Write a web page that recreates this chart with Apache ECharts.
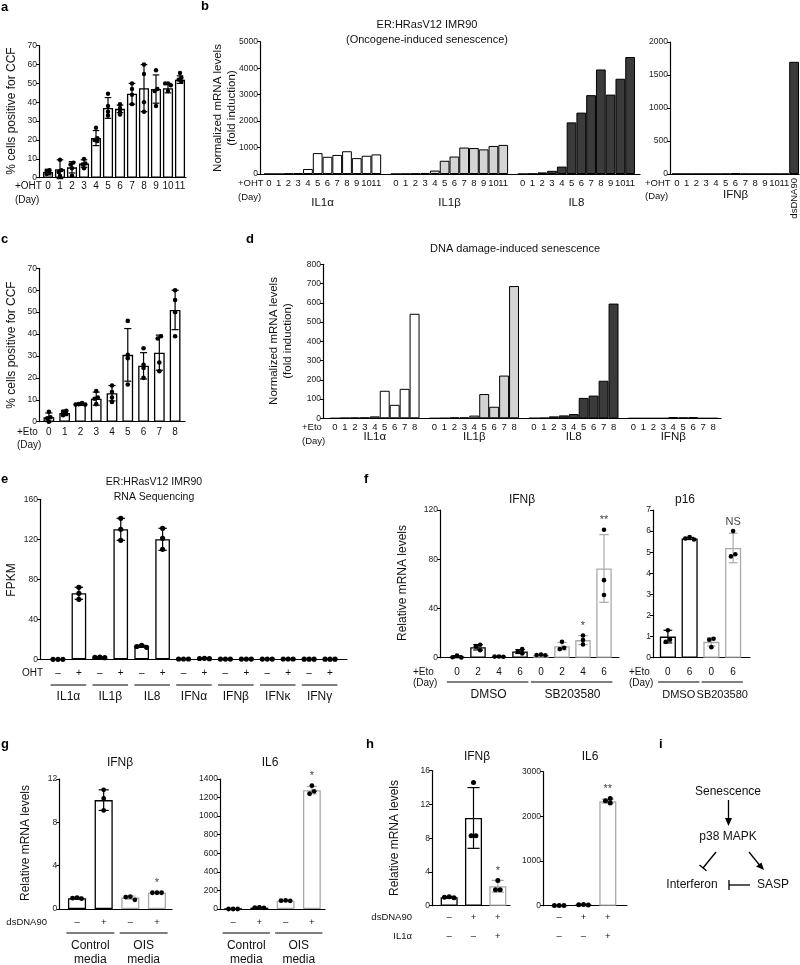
<!DOCTYPE html>
<html><head><meta charset="utf-8">
<script src="https://cdn.jsdelivr.net/npm/echarts@6/dist/echarts.min.js"></script>
<style>html,body{margin:0;padding:0;background:#fff}#c{width:800px;height:965px}</style>
</head><body><div id="c"></div>
<script>
const FONT = '"Liberation Sans", Arial, sans-serif';
// ================= DATA =================
// a: OIS, % CCF positive
const aDays = ['0','1','2','3','4','5','6','7','8','9','10','11'];
const aMean = [3, 4.5, 5.5, 7.5, 21, 37, 36.5, 44.5, 47.5, 47, 47.5, 52];
const aErr  = [1.5, 5, 3, 2, 4, 5.5, 2, 5.5, 12.5, 7.5, 2.5, 2];
const aDots = [[2,3.5,4,2.5],[9.5,4,3,1],[8,7,5,1],[10,7.5,7,5],[26.5,21,20,19.5],[44.5,38,35,33],[39,37,35.5,33.5],[50,47,44,39],[60,55,40,35],[57,47,46,38],[50,50,49,46],[55.5,53,52,51]];
// b: OIS qPCR
const bDays = ['0','1','2','3','4','5','6','7','8','9','10','11'];
const bGenes = ['IL1α','IL1β','IL8'];
const bIL1a = [0, 0, 15, 30, 190, 790, 650, 720, 860, 600, 690, 740];
const bIL1b = [0, 5, 15, 40, 130, 500, 660, 1000, 980, 930, 1060, 1100];
const bIL8  = [0, 10, 60, 120, 280, 1950, 2320, 2980, 3950, 3000, 3600, 4420];
const bIFNbCats = ['0','1','2','3','4','5','6','7','8','9','10','11','dsDNA90'];
const bIFNb = [2, 1, 1, 1, 1, 2, 10, 2, 1, 1, 1, 1, 1700];
// c: DDIS, % CCF positive
const cDays = ['0','1','2','3','4','5','6','7','8'];
const cMean = [2, 4, 8, 10.5, 13, 30.5, 25.5, 31.5, 51];
const cErr  = [2, 1.2, 0.5, 3, 3.5, 12, 6, 8, 9];
const cDots = [[4.5,2,1.5,0],[5,4.5,3.5,3],[8.5,8,7.8,7.8],[14,11,10.5,8],[16.5,13.5,11,9],[46,30.5,29,17],[33.5,26,24.5,20],[39,38,27,23],[60,55.5,50,39]];
// d: DDIS qPCR
const dDays = ['0','1','2','3','4','5','6','7','8'];
const dGenes = ['IL1α','IL1β','IL8','IFNβ'];
const dIL1a = [0, 2, 3, 4, 10, 143, 70, 153, 543];
const dIL1b = [0, 1, 4, 4, 14, 126, 60, 222, 687];
const dIL8  = [1, 2, 10, 15, 22, 106, 118, 195, 596];
const dIFNb = [0, 0, 0, 0, 6, 4, 6, 0, 0];
// e: RNA-seq FPKM
const eGenes = ['IL1α','IL1β','IL8','IFNα','IFNβ','IFNκ','IFNγ'];
const eOHT = ['–','+'];
const eMean = [0, 66, 2, 130, 13, 120, 0.3, 0.8, 0.2, 0.2, 0.2, 0.3, 0.1, 0.1];
const eErr  = [0, 6, 0.3, 11, 1, 11, 0, 0, 0, 0, 0, 0, 0, 0];
const eDots = [[0,0,0],[72,66,60],[2.2,2,1.6],[141,130,119],[14,12.8,12],[131,121,110],[0.3,0.3,0.3],[1,0.8,0.6],[0.2,0.2,0.2],[0.2,0.2,0.2],[0.2,0.2,0.2],[0.3,0.3,0.3],[0.1,0.1,0.1],[0.1,0.1,0.1]];
// f: IFNβ and p16 with SB203580
const fTreat = ['DMSO','SB203580'];
const fDays = ['0','2','4','6'];
const fMean = [0.8, 8.5, 0.9, 5, 2.2, 9.3, 14.3, 72.5];
const fErr  = [0.8, 2.2, 0.2, 1.6, 0.3, 3, 3.6, 27.5];
const fDots = [[1.8,0.4,0.2],[10.5,9,6],[1,0.9,0.8],[7,5,3.5],[2.5,2.2,2],[13,8,7],[18,14.4,10.8],[104,63,51]];
const fAnn  = ['','','','','','','*','**'];
const pDays = ['0','6'];
const pMean = [1.0, 5.65, 0.75, 5.2];
const pErr  = [0.3, 0.05, 0.2, 0.7];
const pDots = [[1.3,0.85,0.75],[5.72,5.65,5.6],[0.9,0.85,0.5],[6.0,4.9,4.8]];
const pAnn  = ['','','','NS'];
// g: conditioned media
const gMedia = ['Control\nmedia','OIS\nmedia'];
const gDs = ['–','+'];
const gIFNb = [1.0, 10.05, 1.05, 1.5];
const gIFNbErr = [0.08, 0.95, 0.15, 0.04];
const gIFNbDots = [[1.05,1.0,0.95],[11,10.2,9.1],[1.15,1.1,0.85],[1.5,1.5,1.5]];
const gIFNbAnn = ['','','','*'];
const gIL6 = [0, 15, 90, 1280];
const gIL6Err = [0, 3, 3, 40];
const gIL6Dots = [[0,0,0],[18,15,12],[92,90,88],[1328,1267,1241]];
const gIL6Ann = ['','','','*'];
// h: IL1α
const hDs = ['–','+','+'];
const hIL1a = ['–','–','+'];
const hIFNb = [1.0, 10.4, 2.3];
const hIFNbErr = [0.05, 3.6, 0.7];
const hIFNbDots = [[1.05,1.0,0.95],[14.6,8.3,8.3],[3.0,1.9,1.9]];
const hIFNbAnn = ['','','*'];
const hIL6 = [5, 22, 2340];
const hIL6Err = [0, 3, 45];
const hIL6Dots = [[5,5,5],[26,22,18],[2400,2350,2300]];
const hIL6Ann = ['','','**'];

// ================= BUILD =================
const BLACK = '#000', GRAY = '#a9a9a9';
const option = {animation:false, backgroundColor:'#fff', textStyle:{fontFamily:FONT},
  grid:[], xAxis:[], yAxis:[], series:[]};
const P = {};

function errSeries(xi, yi, mean, err, colors, capFrac) {
  return {type:'custom', xAxisIndex:xi, yAxisIndex:yi, z:3, silent:true,
    data: mean.map((m,i)=>[i, m-(err[i]||0), m+(err[i]||0)]),
    renderItem:(params, api)=>{
      const i = params.dataIndex;
      if (!err[i]) return null;
      const lo = api.coord([i, api.value(1)]), hi = api.coord([i, api.value(2)]);
      const w = api.size([1,0])[0]*capFrac/2;
      const st = {stroke: colors[i], lineWidth:1.2};
      return {type:'group', children:[
        {type:'line', shape:{x1:lo[0],y1:lo[1],x2:hi[0],y2:hi[1]}, style:st},
        {type:'line', shape:{x1:hi[0]-w,y1:hi[1],x2:hi[0]+w,y2:hi[1]}, style:st},
        {type:'line', shape:{x1:lo[0]-w,y1:lo[1],x2:lo[0]+w,y2:lo[1]}, style:st}]};
    }};
}
function dotSeries(xi, yi, dots, r, thF, stepF) {
  return {type:'custom', xAxisIndex:xi, yAxisIndex:yi, z:4, silent:true,
    data: dots.map((arr,i)=>[i, Math.max.apply(null, arr)]),
    renderItem:(params, api)=>{
      const i = params.dataIndex;
      const cx = api.coord([i, 0])[0];
      const ys = dots[i].map(v=>api.coord([i, v])[1]).sort((a,b)=>a-b);
      const th = thF*r, step = stepF*r;
      const placed = [];
      ys.forEach(y=>{
        for (const k of [0,-1,1,-2,2,-3,3]) {
          const x = cx + k*step;
          if (!placed.some(q=>Math.abs(q.x-x) < step-0.1 && Math.abs(q.y-y) < th)) { placed.push({x,y}); return; }
        }
        placed.push({x:cx,y});
      });
      placed.sort((a,b)=>a.y-b.y);
      let s0 = 0;
      for (let k=1;k<=placed.length;k++){
        if (k===placed.length || placed[k].y-placed[k-1].y >= th) {
          const cl = placed.slice(s0,k);
          const mn = Math.min(...cl.map(q=>q.x)), mx = Math.max(...cl.map(q=>q.x));
          const sh = cx-(mn+mx)/2; cl.forEach(q=>q.x+=sh); s0 = k;
        }
      }
      return {type:'group', children: placed.map(q=>({type:'circle', shape:{cx:q.x, cy:q.y, r}, style:{fill:'#000'}}))};
    }};
}
function annSeries(xi, yi, mean, err, dots, ann) {
  return {type:'custom', xAxisIndex:xi, yAxisIndex:yi, z:6, silent:true,
    data: ann.map((t,i)=>[i, Math.max(mean[i]+(err[i]||0), dots ? Math.max.apply(null, dots[i]) : -1e9)]),
    renderItem:(params, api)=>{
      const t = ann[params.dataIndex]; if (!t) return null;
      const p = api.coord([api.value(0), api.value(1)]);
      return {type:'text', x:p[0], y:p[1]-4, style:{text:t, fill:'#444', fontSize:11, fontFamily:FONT,
        align:'center', textAlign:'center', verticalAlign:'bottom', textVerticalAlign:'bottom'}};
    }};
}
function addPanel(name, p) {
  const n = p.cats.length;
  const fill = p.fill || p.cats.map(()=>'#fff');
  const stroke = p.stroke || p.cats.map(()=>BLACK);
  const go = option.grid.length, gi = go+1;
  const h = p.yBot - p.yTop;
  option.grid.push({left:p.ax0, top:p.yTop, width:p.ax1-p.ax0, height:h});
  option.grid.push({left:p.ix0, top:p.yTop, width:p.ix1-p.ix0, height:h});
  const xo = option.xAxis.length, xi = xo+1;
  const yo = option.yAxis.length, yi = yo+1;
  const lh = p.xLH || (p.xFont+2);
  option.xAxis.push({gridIndex:go, type:'value', min:0, max:1,
    axisLine:{show:true,onZero:false,lineStyle:{color:BLACK,width:1.2}}, axisTick:{show:false}, axisLabel:{show:false}, splitLine:{show:false}});
  option.xAxis.push({gridIndex:gi, type:'category', data:p.cats,
    axisLine:{show:false}, axisTick:{show:false}, splitLine:{show:false},
    axisLabel:{interval:0, fontSize:p.xFont, lineHeight:lh, margin:p.labelY-p.yBot-lh/2, color:'#111', fontFamily:FONT,
      formatter:(v,i)=>p.labels[i]}});
  option.yAxis.push({gridIndex:go, type:'value', min:0, max:p.yMax, interval:p.yInt,
    axisLine:{show:true,onZero:false,lineStyle:{color:BLACK,width:1.2}},
    axisTick:{show:true,length:3,lineStyle:{color:BLACK,width:1}}, splitLine:{show:false},
    axisLabel:{fontSize:p.yFont||8.5, color:'#222', margin:2, fontFamily:FONT, formatter:v=>String(v)}});
  option.yAxis.push({gridIndex:gi, type:'value', min:0, max:p.yMax, show:false});
  option.series.push({type:'bar', xAxisIndex:xi, yAxisIndex:yi, z:2, barCategoryGap:p.gap, silent:true,
    data:p.values.map((v,i)=> v==null ? '-' : {value:v, itemStyle:{color:fill[i], borderColor:stroke[i], borderWidth:p.bw||1.3}})});
  if (p.err) option.series.push(errSeries(xi, yi, p.values, p.err, stroke, p.cap||0.45));
  if (p.dots) option.series.push(dotSeries(xi, yi, p.dots, p.r||2.3, p.thF||1.7, p.stepF||1.9));
  if (p.ann) option.series.push(annSeries(xi, yi, p.values, p.err||[], p.dots, p.ann));
  P[name] = {xi, s:(p.ix1-p.ix0)/n, p};
}
function grouped(groups, days, vals, fills, gapN) {
  const cats=[], labels=[], values=[], fill=[], ranges=[];
  groups.forEach((g,gi)=>{
    const i0 = cats.length;
    days.forEach((d,k)=>{cats.push(g+'|'+d); labels.push(d); values.push(vals[gi][k]); fill.push(fills[gi]);});
    ranges.push({name:g, i0, i1:cats.length-1});
    if (gi<groups.length-1) for (let j=0;j<gapN;j++){cats.push('gap'+gi+'_'+j); labels.push(''); values.push(null); fill.push('#fff');}
  });
  return {cats, labels, values, fill, ranges};
}
function paired(outer, inner) {
  const cats=[], labels=[], ranges=[];
  outer.forEach((o,oi)=>{ const i0=cats.length; inner.forEach(c=>{cats.push(o+'|'+cats.length); labels.push(c);}); ranges.push({name:o,i0,i1:cats.length-1}); });
  return {cats, labels, ranges};
}

// ---- a
addPanel('a', {ax0:39, ax1:186, yTop:45.7, yBot:177.7, ix0:42, ix1:186, yMax:70, yInt:10,
  cats:aDays, labels:aDays, values:aMean, err:aErr, dots:aDots, gap:'16%', xFont:10, labelY:186, cap:0.55, r:2.2, thF:1.1, stepF:1.3});
// ---- b
const bG = grouped(bGenes, bDays, [bIL1a, bIL1b, bIL8], ['#ffffff','#d4d4d4','#3b3b3b'], 1);
addPanel('b', {ax0:260, ax1:640, yTop:41.7, yBot:174, ix0:264, ix1:635, yMax:5000, yInt:1000,
  cats:bG.cats, labels:bG.labels, values:bG.values, fill:bG.fill, gap:'0%', bw:1, xFont:9.5, labelY:183});
addPanel('b2', {ax0:670, ax1:799, yTop:42, yBot:174, ix0:672, ix1:799, yMax:2000, yInt:500,
  cats:bIFNbCats, labels:bIFNbCats.map((c,i)=> i<12 ? c : ''), values:bIFNb, fill:bIFNbCats.map(()=>'#3b3b3b'), gap:'0%', bw:1, xFont:9.5, labelY:183});
// ---- c
addPanel('c', {ax0:39, ax1:185, yTop:268.3, yBot:421.7, ix0:41, ix1:183, yMax:70, yInt:10,
  cats:cDays, labels:cDays, values:cMean, err:cErr, dots:cDots, gap:'32%', xFont:10, labelY:432, cap:0.45, r:2.3, thF:1.2, stepF:1.4});
// ---- d
const dG = grouped(dGenes, dDays, [dIL1a, dIL1b, dIL8, dIFNb], ['#ffffff','#d4d4d4','#3b3b3b','#3b3b3b'], 1);
addPanel('d', {ax0:323, ax1:721, yTop:264.3, yBot:418.3, ix0:330, ix1:718, yMax:800, yInt:100,
  cats:dG.cats, labels:dG.labels, values:dG.values, fill:dG.fill, gap:'0%', bw:1, xFont:9.5, labelY:427});
// ---- e
const eP = paired(eGenes, eOHT);
addPanel('e', {ax0:40, ax1:347, yTop:499.3, yBot:659.3, ix0:47.5, ix1:340.5, yMax:160, yInt:40,
  cats:eP.cats, labels:eP.labels, values:eMean, err:eErr, dots:eDots, gap:'30%', xFont:10, labelY:673, cap:0.4, r:2.6});
// ---- f
const fP = paired(fTreat, fDays);
const fStroke = fP.cats.map((c,i)=> i<4 ? BLACK : GRAY);
addPanel('f', {ax0:440, ax1:619, yTop:510, yBot:657.7, ix0:446.5, ix1:614.5, yMax:120, yInt:40,
  cats:fP.cats, labels:fP.labels, values:fMean, err:fErr, dots:fDots, ann:fAnn, stroke:fStroke, gap:'26%', xFont:10, labelY:672, cap:0.45, r:2.3});
const pP = paired(fTreat, pDays);
addPanel('f2', {ax0:653, ax1:750, yTop:510, yBot:657.7, ix0:657, ix1:744, yMax:7, yInt:1,
  cats:pP.cats, labels:pP.labels, values:pMean, err:pErr, dots:pDots, ann:pAnn, stroke:[BLACK,BLACK,GRAY,GRAY], gap:'26%', xFont:10, labelY:672, cap:0.4, r:2.3});
// ---- g
const gP = paired(gMedia, gDs);
addPanel('g', {ax0:59.3, ax1:172, yTop:779, yBot:909, ix0:63.7, ix1:170.3, yMax:12, yInt:4,
  cats:gP.cats, labels:gP.labels, values:gIFNb, err:gIFNbErr, dots:gIFNbDots, ann:gIFNbAnn, stroke:[BLACK,BLACK,GRAY,GRAY], gap:'32%', xFont:9.5, labelY:922, cap:0.38, r:2.4});
addPanel('g2', {ax0:220, ax1:325, yTop:779, yBot:909, ix0:220, ix1:325, yMax:1400, yInt:200,
  cats:gP.cats, labels:gP.labels, values:gIL6, err:gIL6Err, dots:gIL6Dots, ann:gIL6Ann, stroke:[BLACK,BLACK,GRAY,GRAY], gap:'32%', xFont:9.5, labelY:922, cap:0.38, r:2.4});
// ---- h
const hCats = hDs.map((d,i)=>'h'+i);
const hLabels = hDs.map((d,i)=>d+'\n'+hIL1a[i]);
addPanel('h', {ax0:432, ax1:510, yTop:770.7, yBot:905.7, ix0:437, ix1:510, yMax:16, yInt:4,
  cats:hCats, labels:hLabels, values:hIFNb, err:hIFNbErr, dots:hIFNbDots, ann:hIFNbAnn, stroke:[BLACK,BLACK,GRAY], gap:'30%', xFont:9.5, xLH:19, labelY:917, cap:0.5, r:2.5});
addPanel('h2', {ax0:543, ax1:627, yTop:771.7, yBot:905.7, ix0:547, ix1:620, yMax:3000, yInt:1000,
  cats:hCats, labels:hLabels, values:hIL6, err:hIL6Err, dots:hIL6Dots, ann:hIL6Ann, stroke:[BLACK,BLACK,GRAY], gap:'30%', xFont:9.5, xLH:19, labelY:917, cap:0.5, r:2.5});

const chart = echarts.init(document.getElementById('c'), null, {renderer:'canvas', width:800, height:965});
chart.setOption(option);

// ================= TEXT / ANNOTATIONS =================
const G = [];
function T(text, x, y, o) {
  o = o || {};
  const style = {text, x:0, y:0, fill:o.color||'#111', fontSize:o.size||11, fontFamily:FONT, fontWeight:o.bold?'bold':'normal',
    align:o.align||'center', textAlign:o.align||'center', verticalAlign:o.va||'middle', textVerticalAlign:o.va||'middle'};
  if (o.lh) style.lineHeight = o.lh;
  G.push({type:'text', x, y, rotation:o.rot||0, silent:true, style});
}
function L(x1,y1,x2,y2,o) { o=o||{}; G.push({type:'line', silent:true, shape:{x1,y1,x2,y2}, style:{stroke:o.color||'#000', lineWidth:o.w||1}}); }
const X = (name, idx) => chart.convertToPixel({xAxisIndex:P[name].xi}, idx);
const R90 = Math.PI/2;

// panel letters
[['a',1,1],['b',201,0],['c',1,233],['d',246,233],['e',1,473],['f',364,473],['g',1,738],['h',366,738],['i',659,738]]
  .forEach(([t,x,y])=>T(t,x,y,{size:13,bold:true,align:'left',va:'top',color:'#000'}));

// a
T('% cells positive for CCF', 12, 111, {rot:R90, size:12});
T('+OHT', 15, 186, {align:'left', size:10}); T('(Day)', 15, 200, {align:'left', size:10});
// b
T('ER:HRasV12 IMR90', 427, 25, {size:11}); T('(Oncogene-induced senescence)', 427, 40, {size:11});
T('Normalized mRNA levels\n(fold induction)', 225, 108, {rot:R90, size:11.5, lh:14});
T('+OHT', 238, 183, {align:'left', size:9.5}); T('(Day)', 238, 197, {align:'left', size:9.5});
bG.ranges.forEach(r=>T(r.name, (X('b',r.i0)+X('b',r.i1))/2, 203, {size:11.5}));
T('+OHT', 645, 183, {align:'left', size:9.5}); T('(Day)', 645, 196, {align:'left', size:9.5});
T('IFNβ', (X('b2',0)+X('b2',12))/2, 195, {size:11.5});
T(bIFNbCats[12], X('b2',12), 178, {rot:R90, align:'right', size:9.5});
// c
T('% cells positive for CCF', 12, 345, {rot:R90, size:12});
T('+Eto', 17, 432, {align:'left', size:10}); T('(Day)', 17, 445, {align:'left', size:10});
// d
T('DNA damage-induced senescence', 515, 249, {size:11});
T('Normalized mRNA levels\n(fold induction)', 281, 341, {rot:R90, size:11.5, lh:14});
T('+Eto', 302, 427, {align:'left', size:9.5}); T('(Day)', 302, 441, {align:'left', size:9.5});
dG.ranges.forEach(r=>T(r.name, (X('d',r.i0)+X('d',r.i1))/2, 437, {size:11.5}));
// e
T('ER:HRasV12 IMR90', 154, 482, {size:10.5}); T('RNA Sequencing', 154, 497, {size:10.5});
T('FPKM', 12, 580, {rot:R90, size:12});
T('OHT', 43, 673, {align:'right', size:10});
eP.ranges.forEach(r=>{ const a=X('e',r.i0), b=X('e',r.i1), s=P.e.s; L(a-0.35*s,685,b+0.35*s,685); T(r.name,(a+b)/2,697,{size:12}); });
// f
T('IFNβ', 522, 500, {size:12}); T('p16', 685, 500, {size:12});
T('Relative mRNA levels', 403, 583, {rot:R90, size:12});
T('+Eto', 413, 672, {align:'left', size:10}); T('(Day)', 413, 683, {align:'left', size:10});
fP.ranges.forEach(r=>{ const a=X('f',r.i0), b=X('f',r.i1), s=P.f.s; L(a-0.48*s,682,b+0.4*s,682); T(r.name,(a+b)/2,695,{size:12}); });
T('+Eto', 629, 672, {align:'left', size:10}); T('(Day)', 629, 683, {align:'left', size:10});
pP.ranges.forEach(r=>{ const a=X('f2',r.i0), b=X('f2',r.i1), s=P.f2.s; L(a-0.45*s,682,b+0.45*s,682); T(r.name,(a+b)/2,695,{size:11}); });
// g
T('IFNβ', 120, 763, {size:12}); T('IL6', 270, 763, {size:12});
T('Relative mRNA levels', 26, 843, {rot:R90, size:12});
T('dsDNA90', 47, 922, {align:'right', size:9.5});
['g','g2'].forEach(nm=>gP.ranges.forEach(r=>{ const a=X(nm,r.i0), b=X(nm,r.i1), s=P[nm].s; L(a-0.4*s,933,b+0.4*s,933); T(r.name,(a+b)/2,953,{size:12, lh:14}); }));
// h
T('IFNβ', 477, 757, {size:12}); T('IL6', 590, 757, {size:12});
T('Relative mRNA levels', 395, 838, {rot:R90, size:12});
T('dsDNA90', 412, 917, {align:'right', size:9.5}); T('IL1α', 412, 936, {align:'right', size:9.5});
// i diagram
T('Senescence', 728, 792, {size:12}); T('p38 MAPK', 728, 837, {size:12});
T('Interferon', 692, 885, {size:12}); T('SASP', 773, 885, {size:12});
L(728.5, 800, 728.5, 819, {w:1.3});
G.push({type:'polygon', silent:true, shape:{points:[[725,818],[732,818],[728.5,826]]}, style:{fill:'#000'}});
L(716, 852, 703, 868, {w:1.3});
L(699.5, 865, 706.5, 870.8, {w:1.3});
L(749, 852, 759.5, 865, {w:1.3});
G.push({type:'polygon', silent:true, shape:{points:[[756,866.5],[761.5,862.5],[764,870]]}, style:{fill:'#000'}});
L(750, 885, 729, 885, {w:1.3});
L(729, 880, 729, 890, {w:1.3});

chart.setOption({graphic:{elements:G}});
</script></body></html>
